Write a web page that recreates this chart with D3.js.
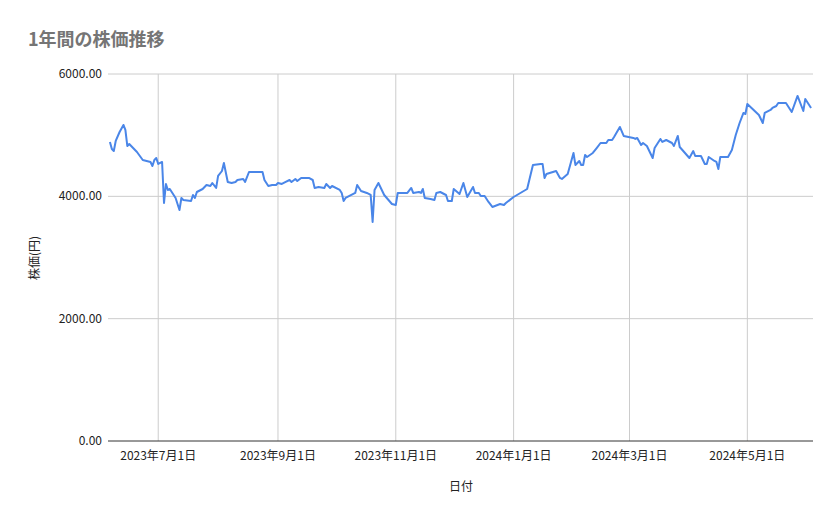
<!DOCTYPE html>
<html><head><meta charset="utf-8">
<script src="https://cdn.jsdelivr.net/npm/d3@7"></script>
<style>body{margin:0;background:#fff;font-family:"Noto Sans CJK JP","Noto Sans",sans-serif}</style>
</head><body>
<svg id="chart" width="839" height="519"></svg>
<script>
var dates = ["2023-06-06","2023-06-07","2023-06-08","2023-06-09","2023-06-11","2023-06-13","2023-06-14","2023-06-15","2023-06-16","2023-06-18","2023-06-20","2023-06-23","2023-06-25","2023-06-27","2023-06-28","2023-06-29","2023-06-30","2023-07-01","2023-07-03","2023-07-04","2023-07-05","2023-07-06","2023-07-07","2023-07-08","2023-07-10","2023-07-12","2023-07-13","2023-07-14","2023-07-18","2023-07-19","2023-07-20","2023-07-21","2023-07-24","2023-07-26","2023-07-28","2023-07-29","2023-07-31","2023-08-01","2023-08-03","2023-08-04","2023-08-06","2023-08-08","2023-08-10","2023-08-11","2023-08-14","2023-08-15","2023-08-17","2023-08-21","2023-08-24","2023-08-25","2023-08-27","2023-08-29","2023-08-31","2023-09-01","2023-09-03","2023-09-05","2023-09-07","2023-09-08","2023-09-10","2023-09-11","2023-09-13","2023-09-17","2023-09-19","2023-09-20","2023-09-22","2023-09-25","2023-09-26","2023-09-28","2023-09-29","2023-10-03","2023-10-04","2023-10-05","2023-10-06","2023-10-11","2023-10-12","2023-10-14","2023-10-17","2023-10-19","2023-10-20","2023-10-21","2023-10-23","2023-10-26","2023-10-30","2023-11-01","2023-11-02","2023-11-05","2023-11-07","2023-11-09","2023-11-10","2023-11-13","2023-11-14","2023-11-15","2023-11-16","2023-11-19","2023-11-21","2023-11-22","2023-11-24","2023-11-27","2023-11-28","2023-11-30","2023-12-01","2023-12-04","2023-12-06","2023-12-08","2023-12-11","2023-12-12","2023-12-14","2023-12-15","2023-12-17","2023-12-19","2023-12-21","2023-12-25","2023-12-27","2023-12-28","2024-01-01","2024-01-08","2024-01-11","2024-01-15","2024-01-16","2024-01-17","2024-01-18","2024-01-23","2024-01-25","2024-01-26","2024-01-29","2024-02-01","2024-02-02","2024-02-04","2024-02-05","2024-02-06","2024-02-07","2024-02-08","2024-02-11","2024-02-13","2024-02-15","2024-02-18","2024-02-19","2024-02-21","2024-02-22","2024-02-25","2024-02-27","2024-03-03","2024-03-04","2024-03-05","2024-03-07","2024-03-08","2024-03-10","2024-03-13","2024-03-14","2024-03-17","2024-03-18","2024-03-20","2024-03-23","2024-03-24","2024-03-26","2024-03-27","2024-04-01","2024-04-03","2024-04-04","2024-04-07","2024-04-09","2024-04-10","2024-04-11","2024-04-14","2024-04-15","2024-04-16","2024-04-17","2024-04-21","2024-04-23","2024-04-25","2024-04-27","2024-04-29","2024-04-30","2024-05-01","2024-05-07","2024-05-09","2024-05-10","2024-05-13","2024-05-14","2024-05-16","2024-05-17","2024-05-21","2024-05-24","2024-05-27","2024-05-29","2024-05-30","2024-05-31","2024-06-03"];
var prices = [4889,4774,4741,4905,5052,5167,5085,4823,4856,4790,4725,4594,4578,4562,4496,4594,4627,4529,4562,3891,4202,4104,4120,4071,3973,3777,3973,3940,3924,4022,3973,4071,4120,4186,4169,4218,4137,4333,4414,4545,4235,4218,4235,4267,4284,4235,4398,4398,4398,4267,4169,4186,4186,4218,4202,4235,4267,4235,4284,4251,4300,4300,4267,4137,4153,4137,4202,4137,4169,4104,4055,3924,3973,4055,4186,4088,4055,4022,3581,4104,4218,4022,3875,3859,4055,4055,4055,4137,4055,4071,4055,4120,3973,3957,3940,4055,4071,4022,3924,3924,4120,4038,4218,3989,4153,4055,4055,4006,4006,3908,3826,3875,3859,3891,3989,4120,4513,4529,4529,4300,4365,4414,4300,4284,4365,4709,4513,4578,4513,4513,4676,4643,4709,4790,4872,4872,4921,4921,4970,5134,4987,4954,4938,4954,4840,4872,4823,4627,4790,4938,4889,4921,4872,4823,4987,4807,4627,4741,4660,4660,4529,4529,4643,4578,4562,4447,4643,4643,4758,5003,5199,5363,5346,5510,5330,5199,5363,5412,5445,5477,5526,5526,5379,5641,5477,5396,5592,5445];
var xTicks = ["2023-07-01","2023-09-01","2023-11-01","2024-01-01","2024-03-01","2024-05-01"];
var yTicks = [0,2000,4000,6000];

var parse = d3.timeParse("%Y-%m-%d");
var data = dates.map(function(d, i){ return {date: parse(d), value: prices[i]}; });

var svg = d3.select("#chart");
var margin = {top: 74, right: 26, bottom: 78, left: 108};
var W = 839 - margin.left - margin.right, H = 519 - margin.top - margin.bottom;

var x = d3.scaleTime().domain([parse("2023-06-05"), parse("2024-06-04")]).range([0, W]);
var y = d3.scaleLinear().domain([0, 6000]).range([H, 0]);
var g = svg.append("g").attr("transform", "translate(" + margin.left + "," + margin.top + ")");

// grid
g.selectAll(".hg").data(yTicks.slice(1)).enter().append("line")
  .attr("x1", 0).attr("x2", W).attr("y1", y).attr("y2", y)
  .attr("stroke", "#cccccc");
g.selectAll(".vg").data(xTicks).enter().append("line")
  .attr("x1", function(d){ return x(parse(d)); }).attr("x2", function(d){ return x(parse(d)); })
  .attr("y1", 0).attr("y2", H).attr("stroke", "#cccccc");
g.append("line").attr("x1", 0).attr("x2", W).attr("y1", H).attr("y2", H).attr("stroke", "#333");

// y labels
g.selectAll(".yl").data(yTicks).enter().append("text")
  .attr("x", -6).attr("y", function(d){ return y(d) + 4; })
  .attr("text-anchor", "end").attr("font-size", 12).attr("fill", "#222")
  .text(function(d){ return d.toFixed(2); });

// x labels
var fmt = d3.timeFormat("%Y年%-m月%-d日");
g.selectAll(".xl").data(xTicks).enter().append("text")
  .attr("x", function(d){ return x(parse(d)); }).attr("y", H + 19)
  .attr("text-anchor", "middle").attr("font-size", 12).attr("fill", "#222")
  .text(function(d){ return fmt(parse(d)); });

// line
g.append("path").datum(data)
  .attr("fill", "none").attr("stroke", "#4a86e8").attr("stroke-width", 2).attr("stroke-linejoin", "round")
  .attr("d", d3.line().x(function(d){ return x(d.date); }).y(function(d){ return y(d.value); }));

// titles
svg.append("text").attr("x", 28).attr("y", 46).attr("font-size", 18).attr("font-weight", "bold")
  .attr("fill", "#757575").text("1年間の株価推移");
svg.append("text").attr("x", 461).attr("y", 491).attr("text-anchor", "middle")
  .attr("font-size", 12).attr("fill", "#222").text("日付");
svg.append("text").attr("transform", "translate(39,258) rotate(-90)").attr("text-anchor", "middle")
  .attr("font-size", 12).attr("fill", "#222").text("株価(円)");
</script>
</body></html>
